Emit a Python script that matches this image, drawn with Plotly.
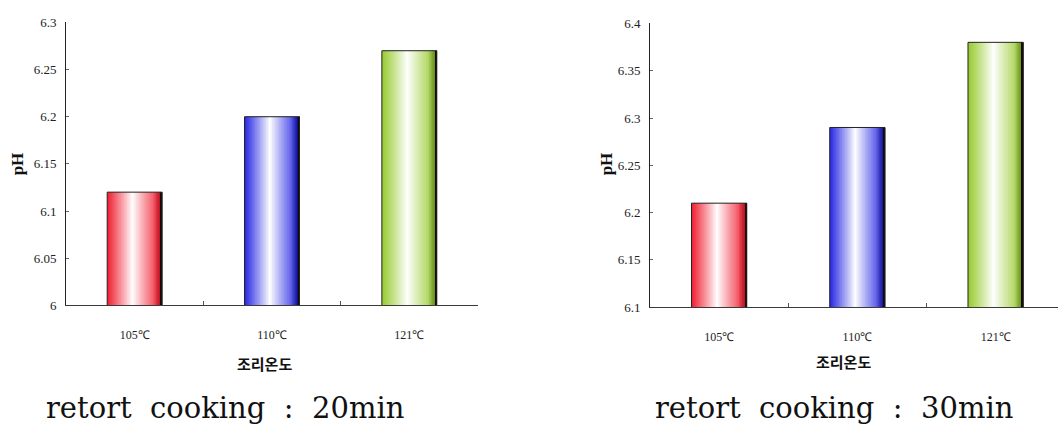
import plotly.graph_objects as go

# pH of retort-cooked samples by cooking temperature
categories = ["105℃", "110℃", "121℃"]
ph_20min = [6.12, 6.20, 6.27]
ph_30min = [6.21, 6.29, 6.38]

yticks_20 = [6.0, 6.05, 6.1, 6.15, 6.2, 6.25, 6.3]
ytick_text_20 = ["6", "6.05", "6.1", "6.15", "6.2", "6.25", "6.3"]
yticks_30 = [6.1, 6.15, 6.2, 6.25, 6.3, 6.35, 6.4]
ytick_text_30 = ["6.1", "6.15", "6.2", "6.25", "6.3", "6.35", "6.4"]

x_title = "조리온도"
y_title = "pH"
caption_20 = "retort  cooking  :  20min"
caption_30 = "retort  cooking  :  30min"

# base fill colour of each bar and the darker tone on its right edge
bar_colors = [(240, 28, 48), (38, 38, 228), (150, 202, 46)]
edge_colors = [(140, 0, 12), (0, 0, 90), (60, 90, 10)]

BAR_W = 0.4
N_STRIPS = 36

W, H = 1058, 433


def shade(base, edge, t):
    """Colour of a vertical strip at relative position t (0 = left, 1 = right)."""
    peak = 0.46
    d = (t - peak) / peak if t < peak else (t - peak) / (1 - peak)
    m = max(0.0, 1 - abs(d) ** 0.95)
    c = [b + (255 - b) * m for b in base]
    if t > 0.84:
        k = (t - 0.84) / 0.16 * 0.7
        c = [ci * (1 - k) + e * k for ci, e in zip(c, edge)]
    return "rgb(%d,%d,%d)" % tuple(int(round(v)) for v in c)


def gradient_bars(values, xa, ya):
    traces = []
    sw = BAR_W / N_STRIPS
    for i in range(N_STRIPS):
        t = (i + 0.5) / N_STRIPS
        off = -BAR_W / 2 + i * sw
        w = min(sw * 1.7, BAR_W / 2 - off)
        traces.append(go.Bar(
            x=categories, y=values,
            offset=off, width=w,
            marker=dict(color=[shade(b, e, t) for b, e in zip(bar_colors, edge_colors)],
                        line=dict(width=0)),
            xaxis=xa, yaxis=ya, showlegend=False, hoverinfo="skip",
        ))
    # dark shadow line along the right edge
    sh = 0.01
    traces.append(go.Bar(
        x=categories, y=values, offset=BAR_W / 2 - sh, width=sh,
        marker=dict(color="#140a08", line=dict(width=0)),
        xaxis=xa, yaxis=ya, showlegend=False, hoverinfo="skip",
    ))
    # thin outline
    traces.append(go.Bar(
        x=categories, y=values, offset=-BAR_W / 2, width=BAR_W,
        marker=dict(color="rgba(0,0,0,0)", line=dict(color="#222222", width=1)),
        xaxis=xa, yaxis=ya, showlegend=False,
        hovertemplate="%{x}: %{y}<extra></extra>",
    ))
    return traces


fig = go.Figure()
for tr in gradient_bars(ph_20min, "x", "y"):
    fig.add_trace(tr)
for tr in gradient_bars(ph_30min, "x2", "y2"):
    fig.add_trace(tr)

serif = "Liberation Serif, Times New Roman, serif"
tick_font = dict(family=serif, size=13, color="#222222")
cat_font = dict(family=serif, size=12, color="#222222")

xaxis_common = dict(
    type="category", showgrid=False, zeroline=False,
    showline=True, linecolor="#3a3a3a", linewidth=1,
    ticks="inside", tickson="boundaries", ticklen=4, tickcolor="#555555",
    tickfont=cat_font, ticklabelstandoff=18, fixedrange=True,
)
yaxis_common = dict(
    showgrid=False, zeroline=False,
    showline=True, linecolor="#222222", linewidth=1,
    ticks="inside", ticklen=3, tickcolor="#666666",
    tickfont=tick_font, ticklabelstandoff=6, fixedrange=True,
)

fig.update_layout(
    width=W, height=H,
    margin=dict(l=0, r=0, t=0, b=0),
    paper_bgcolor="white", plot_bgcolor="white",
    barmode="overlay",
    xaxis=dict(xaxis_common, domain=[66 / W, 478 / W], range=[-0.5, 2.5], anchor="y"),
    yaxis=dict(yaxis_common, domain=[1 - 309 / H, 1 - 16 / H], range=[6.0, 6.3],
               tickvals=yticks_20, ticktext=ytick_text_20, anchor="x"),
    xaxis2=dict(xaxis_common, domain=[650 / W, 1.0], range=[-0.5, 2.451], anchor="y2"),
    yaxis2=dict(yaxis_common, domain=[1 - 311 / H, 1 - 17 / H], range=[6.1, 6.4],
                tickvals=yticks_30, ticktext=ytick_text_30, anchor="x2"),
)

title_font = dict(family="Noto Sans CJK KR", size=15, color="#111111", weight="bold")
ph_font = dict(family=serif, size=17, color="#111111", weight="bold")
cap_font = dict(family="DejaVu Serif", size=29, color="#111111")

annotations = [
    dict(text=y_title, x=17 / W, y=1 - 163 / H, textangle=-90, font=ph_font),
    dict(text=y_title, x=606 / W, y=1 - 163 / H, textangle=-90, font=ph_font),
    dict(text=x_title, x=264 / W, y=1 - 369 / H, font=title_font),
    dict(text=x_title, x=843 / W, y=1 - 367 / H, font=title_font),
    dict(text=caption_20.replace(" ", "\u00a0"), x=225 / W, y=1 - 415 / H, font=cap_font),
    dict(text=caption_30.replace(" ", "\u00a0"), x=834 / W, y=1 - 415 / H, font=cap_font),
]
for a in annotations:
    fig.add_annotation(xref="paper", yref="paper", xanchor="center", yanchor="middle",
                       showarrow=False, **a)

fig.write_html("out.html")
